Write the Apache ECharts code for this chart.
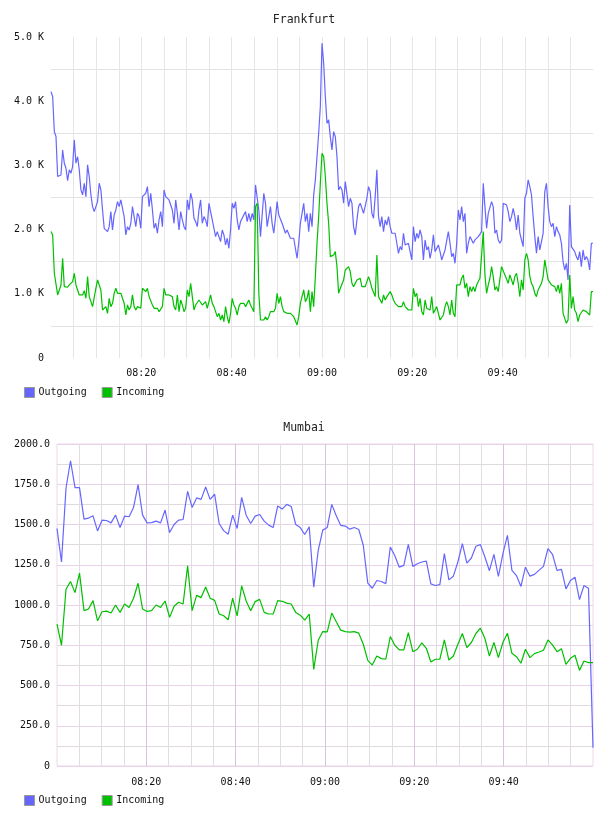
<!DOCTYPE html>
<html>
<head>
<meta charset="utf-8">
<title>Traffic</title>
<script src="https://cdn.jsdelivr.net/npm/echarts@6/dist/echarts.min.js"></script>
<style>
  html, body { margin: 0; padding: 0; background: #fff; }
  #chart { width: 608px; height: 816px; }
</style>
</head>
<body>
<div id="chart"></div>
<script>
// both charts span 08:00 - 10:00 (minutes since midnight)
var startMinute = 480;
var endMinute = 600;

var timeLabels = ['08:20', '08:40', '09:00', '09:20', '09:40'];
var seriesNames = ['Outgoing', 'Incoming'];
var frankfurtTicks = ['0', '1.0 K', '2.0 K', '3.0 K', '4.0 K', '5.0 K'];

// Frankfurt, evenly sampled
var frankfurtOutgoing = [
  4150, 4070, 3527, 3450, 2826, 2840, 2850, 3240, 3034, 2955,
  2764, 2930, 2880, 2980, 3397, 3034, 3138, 2930, 2618, 2540,
  2722, 2514, 3008, 2826, 2540, 2358, 2280, 2358, 2436, 2722,
  2618, 2306, 2020, 2046, 1969, 2046, 2280, 1994, 2228, 2306,
  2436, 2358, 2462, 2436, 2202, 1917, 2046, 1994, 2098, 2358,
  2384, 2046, 2254, 2202, 2020, 2514, 2488, 2566, 2670, 2358,
  2566, 2306, 2020, 2098, 1943, 2150, 2280, 2046, 2618, 2514,
  2540, 2462, 2462, 2306, 2098, 2462, 2254, 1994, 2280, 2150,
  2046, 1994, 2462, 2306, 2566, 2462, 2176, 2124, 2046, 2306,
  2462, 2098, 2202, 2150, 2046, 2410, 2280, 2150, 2124, 1891,
  1969, 1943, 1813, 1994, 1917, 1761, 1865, 1709, 1994, 2410,
  2332, 2436, 2150, 1994, 2124, 2176, 2150, 2280, 2124, 2254,
  2124, 2254, 2150, 2696, 2670, 2306, 1891, 1865, 2566, 2410,
  2046, 2020, 2358, 2098, 1943, 2176, 2436, 2228, 2254, 2098,
  2072, 1943, 1994, 2020, 1865, 1891, 1865, 1865, 1553, 1787,
  2098, 2254, 2410, 2124, 2254, 1969, 2254, 2046, 2540, 2774,
  3138, 3501, 3917, 4904, 4592, 4073, 3657, 3709,
  3449, 3242, 3527, 3449, 3138, 2618, 2670, 2618, 2410, 2748,
  2748, 2358, 2488, 2410, 2046, 1917, 2150, 2358, 2410, 2332,
  2254, 2280, 2488, 2670, 2592, 2254, 2176, 2514, 2930, 2202,
  2046, 2202, 1969, 2150, 2072, 2202, 2046, 1943, 1917, 1943,
  1787, 1631, 1735, 1683, 1943, 1761, 1735, 1787, 1657, 1527,
  2046, 1813, 1943, 1865, 1994, 1891, 1527, 1839, 1683, 1735,
  1553, 1683, 1917, 1657, 1683, 1761, 1657, 1527, 1501, 1683,
  1657, 1969, 1787, 1579, 1631, 1475, 1787, 2306, 2150, 2358,
  2124, 2254, 1631, 1787, 1891, 1891, 1787, 1839, 1813, 1891,
  1917, 1969, 2722, 2358, 2020, 2254, 2280, 2436, 2358, 1943,
  1994, 1839, 1787, 1839, 2410, 2410, 2384, 2280, 2124, 2202,
  2332, 2202, 1994, 2228, 1943, 1943, 1735, 2488, 2566, 2774,
  2670, 2540, 2202, 1891, 1631, 1891, 1683, 1657, 1943, 2592,
  2722, 2358, 2124, 2046, 2098, 1891, 2046, 1969, 1917, 1787,
  1501, 1371, 1475, 1216, 2384, 1735, 1709, 1657, 1579, 1527,
  1657, 1423, 1683, 1527, 1579, 1527, 1371, 1787, 1787
];

var frankfurtIncoming = [
  1969, 1917, 1320, 1309, 982, 1060, 1138, 1553, 1112, 1122,
  1102, 1138, 1164, 1190, 1320, 1138, 1138, 982, 956, 982,
  1049, 930, 1268, 956, 930, 800, 826, 1086, 1216, 1242,
  1060, 748, 774, 800, 696, 930, 800, 852, 1008, 1086,
  1008, 982, 1008, 982, 852, 670, 826, 748, 800, 982,
  800, 748, 800, 826, 774, 1086, 1060, 1034, 1086, 956,
  982, 826, 774, 748, 774, 722, 696, 800, 1086, 982,
  956, 982, 956, 956, 800, 748, 982, 722, 904, 826,
  722, 774, 1060, 956, 1164, 956, 748, 826, 800, 904,
  930, 826, 800, 878, 774, 748, 982, 852, 800, 722,
  644, 696, 592, 670, 566, 800, 644, 540, 696, 930,
  826, 774, 670, 800, 852, 826, 852, 800, 826, 904,
  826, 774, 722, 2359, 2410, 1008, 592, 618, 592, 644,
  592, 644, 722, 748, 722, 774, 1008, 852, 956, 800,
  722, 696, 696, 670, 696, 670, 644, 670, 514, 644,
  852, 956, 1060, 878, 930, 1060, 722, 1034, 800, 1268,
  1787, 2203, 2722, 3190, 3138, 2826, 2410, 2099,
  1579, 1553, 1605, 1657, 1423, 1008, 1086, 1086, 1216, 1371,
  1371, 1423, 1345, 1164, 1112, 1086, 1216, 1216, 1242, 1112,
  1086, 1112, 1190, 1268, 1190, 1086, 1060, 956, 1605, 956,
  982, 852, 982, 904, 956, 982, 1034, 982, 904, 852,
  826, 800, 826, 800, 878, 800, 826, 748, 774, 748,
  1086, 956, 1008, 800, 930, 722, 670, 904, 774, 774,
  748, 956, 696, 722, 800, 696, 592, 592, 670, 800,
  878, 800, 670, 904, 696, 644, 1138, 1164, 1138, 1242,
  1294, 1086, 1164, 956, 1112, 1034, 1112, 1034, 1138, 1190,
  1242, 1268, 1969, 1294, 1008, 1138, 1242, 1423, 1268, 1060,
  1112, 1034, 1008, 1423, 1397, 1294, 1320, 1164, 1294, 1216,
  1138, 1268, 1320, 1164, 956, 1216, 1060, 1527, 1631, 1527,
  1268, 1164, 1112, 1008, 956, 1060, 1086, 1164, 1268, 1527,
  1371, 1216, 1242, 1138, 1112, 1112, 1034, 1138, 1008, 1164,
  696, 670, 540, 592, 1294, 774, 956, 748, 696, 566,
  670, 644, 748, 774, 722, 696, 670, 1034, 1034
];

// Mumbai, one sample per minute
var mumbaiOutgoing = [
  1475, 1267, 1725, 1896, 1729, 1729, 1533, 1540, 1554, 1460,
  1527, 1525, 1510, 1558, 1481, 1552, 1548, 1606, 1748, 1558,
  1510, 1512, 1521, 1510, 1590, 1450, 1500, 1527, 1531, 1706,
  1606, 1665, 1656, 1733, 1656, 1688, 1506, 1462, 1440, 1558,
  1475, 1669, 1558, 1506, 1552, 1562, 1521, 1496, 1481, 1615,
  1596, 1625, 1612, 1500, 1481, 1438, 1485, 1110, 1340, 1465,
  1481, 1625, 1554, 1494, 1490, 1471, 1481, 1469, 1371, 1136,
  1104, 1152, 1146, 1133, 1360, 1306, 1235, 1246, 1377, 1240,
  1256, 1267, 1273, 1131, 1121, 1127, 1319, 1156, 1179, 1267,
  1381, 1260, 1292, 1365, 1375, 1298, 1213, 1315, 1177, 1319,
  1433, 1215, 1183, 1115, 1235, 1179, 1190, 1215, 1240, 1350,
  1315, 1215, 1221, 1100, 1152, 1173, 1033, 1121, 1104, 114
];

var mumbaiIncoming = [
  881, 750, 1098, 1146, 1077, 1198, 965, 975, 1027, 902,
  958, 962, 950, 1000, 954, 1006, 985, 1042, 1135, 975,
  960, 965, 1000, 985, 1025, 923, 992, 1017, 1006, 1244,
  965, 1060, 1046, 1112, 1042, 1029, 944, 933, 908, 1042,
  933, 1119, 1025, 965, 1021, 1035, 954, 944, 944, 1027,
  1023, 1012, 1006, 954, 937, 906, 944, 600, 781, 835,
  833, 950, 896, 844, 835, 831, 835, 825, 756, 656,
  627, 683, 667, 663, 804, 750, 721, 721, 829, 710,
  725, 765, 731, 646, 663, 663, 783, 658, 683, 756,
  823, 735, 767, 823, 856, 792, 683, 767, 673, 767,
  825, 700, 679, 638, 725, 673, 698, 708, 719, 783,
  752, 710, 729, 631, 669, 688, 594, 652, 642, 642
];

var colors = ['#6666ff', '#00c000'];
var fontMono = 'DejaVu Sans Mono';

function spread(values) {
  // evenly spaced samples across the time range
  var step = (endMinute - startMinute) / (values.length - 1);
  return values.map(function (v, i) {
    return [startMinute + i * step, v];
  });
}

function clock(m) {
  var h = Math.floor(m / 60);
  var mm = Math.round(m % 60);
  return (h < 10 ? '0' : '') + h + ':' + (mm < 10 ? '0' : '') + mm;
}

function timeLabel(v) {
  var s = clock(v);
  return timeLabels.indexOf(s) >= 0 ? s : '';
}

var chart = echarts.init(document.getElementById('chart'));

var option = {
  animation: false,
  color: colors,
  title: [
    { text: 'Frankfurt', left: 'center', top: 14, padding: 0,
      textStyle: { fontFamily: fontMono, fontSize: 11.5, fontWeight: 'normal', color: '#222' } },
    { text: 'Mumbai', left: 'center', top: 422, padding: 0,
      textStyle: { fontFamily: fontMono, fontSize: 11.5, fontWeight: 'normal', color: '#222' } }
  ],
  legend: [
    { data: seriesNames, left: 24, top: 387, padding: 0, itemWidth: 10, itemHeight: 10, itemGap: 15,
      icon: 'rect', itemStyle: { borderColor: '#999', borderWidth: 1 },
      textStyle: { fontFamily: fontMono, fontSize: 10, color: '#111', padding: [0, 0, 0, -1] } },
    { data: seriesNames, left: 24, top: 795, padding: 0, itemWidth: 10, itemHeight: 10, itemGap: 15,
      icon: 'rect', itemStyle: { borderColor: '#999', borderWidth: 1 },
      textStyle: { fontFamily: fontMono, fontSize: 10, color: '#111', padding: [0, 0, 0, -1] } }
  ],
  grid: [
    { left: 51, right: 15, top: 37, height: 321 },
    { left: 57, right: 15, top: 444, height: 322, show: true, borderColor: '#ecd8ec', borderWidth: 1 }
  ],
  xAxis: [
    {
      gridIndex: 0, type: 'value', position: 'bottom', min: startMinute, max: endMinute, interval: 5,
      axisLine: { show: false }, axisTick: { show: false },
      axisLabel: { formatter: timeLabel, fontFamily: fontMono, fontSize: 10, color: '#111', margin: 10 },
      splitLine: { show: true, showMinLine: false, showMaxLine: false, lineStyle: { color: '#e6e6e6', width: 1 } }
    },
    {
      // 5 minute lines
      gridIndex: 1, type: 'value', position: 'bottom', min: startMinute, max: endMinute, interval: 5,
      axisLine: { show: false }, axisTick: { show: false },
      axisLabel: { show: false },
      splitLine: { show: true, showMinLine: false, showMaxLine: false, lineStyle: { color: '#e2dae4', width: 1 } }
    },
    {
      // 20 minute lines + labels
      gridIndex: 1, type: 'value', position: 'bottom', min: startMinute, max: endMinute, interval: 20,
      axisLine: { show: false }, axisTick: { show: false },
      axisLabel: { formatter: timeLabel, fontFamily: fontMono, fontSize: 10, color: '#111', margin: 11 },
      splitLine: { show: true, showMinLine: false, showMaxLine: false, lineStyle: { color: '#d9c2dd', width: 1 } }
    }
  ],
  yAxis: [
    {
      gridIndex: 0, type: 'value', min: 0, max: 5000, interval: 500,
      axisLine: { show: false }, axisTick: { show: false },
      axisLabel: {
        fontFamily: fontMono, fontSize: 10, color: '#111', margin: 7,
        formatter: function (v) { return v % 1000 ? '' : frankfurtTicks[v / 1000]; }
      },
      // only the half-way lines are drawn
      splitLine: { show: true, lineStyle: { color: ['transparent', '#e3e3e3'], width: 1 } }
    },
    {
      gridIndex: 1, type: 'value', min: 0, max: 2000, interval: 125,
      axisLine: { show: false }, axisTick: { show: false },
      axisLabel: {
        fontFamily: fontMono, fontSize: 10, color: '#111', margin: 7,
        formatter: function (v) { return v % 250 ? '' : (v === 0 ? '0' : v.toFixed(1)); }
      },
      splitLine: { show: true, lineStyle: { color: ['#e8d2e8', '#dedade'], width: 1 } }
    }
  ],
  series: [
    { name: 'Outgoing', type: 'line', xAxisIndex: 0, yAxisIndex: 0, data: spread(frankfurtOutgoing),
      showSymbol: false, lineStyle: { width: 1.2, color: colors[0] } },
    { name: 'Incoming', type: 'line', xAxisIndex: 0, yAxisIndex: 0, data: spread(frankfurtIncoming),
      showSymbol: false, lineStyle: { width: 1.2, color: colors[1] } },
    { name: 'Outgoing', type: 'line', xAxisIndex: 2, yAxisIndex: 1, data: spread(mumbaiOutgoing),
      showSymbol: false, lineStyle: { width: 1.2, color: colors[0] } },
    { name: 'Incoming', type: 'line', xAxisIndex: 2, yAxisIndex: 1, data: spread(mumbaiIncoming),
      showSymbol: false, lineStyle: { width: 1.2, color: colors[1] } }
  ]
};

chart.setOption(option);
</script>
</body>
</html>
